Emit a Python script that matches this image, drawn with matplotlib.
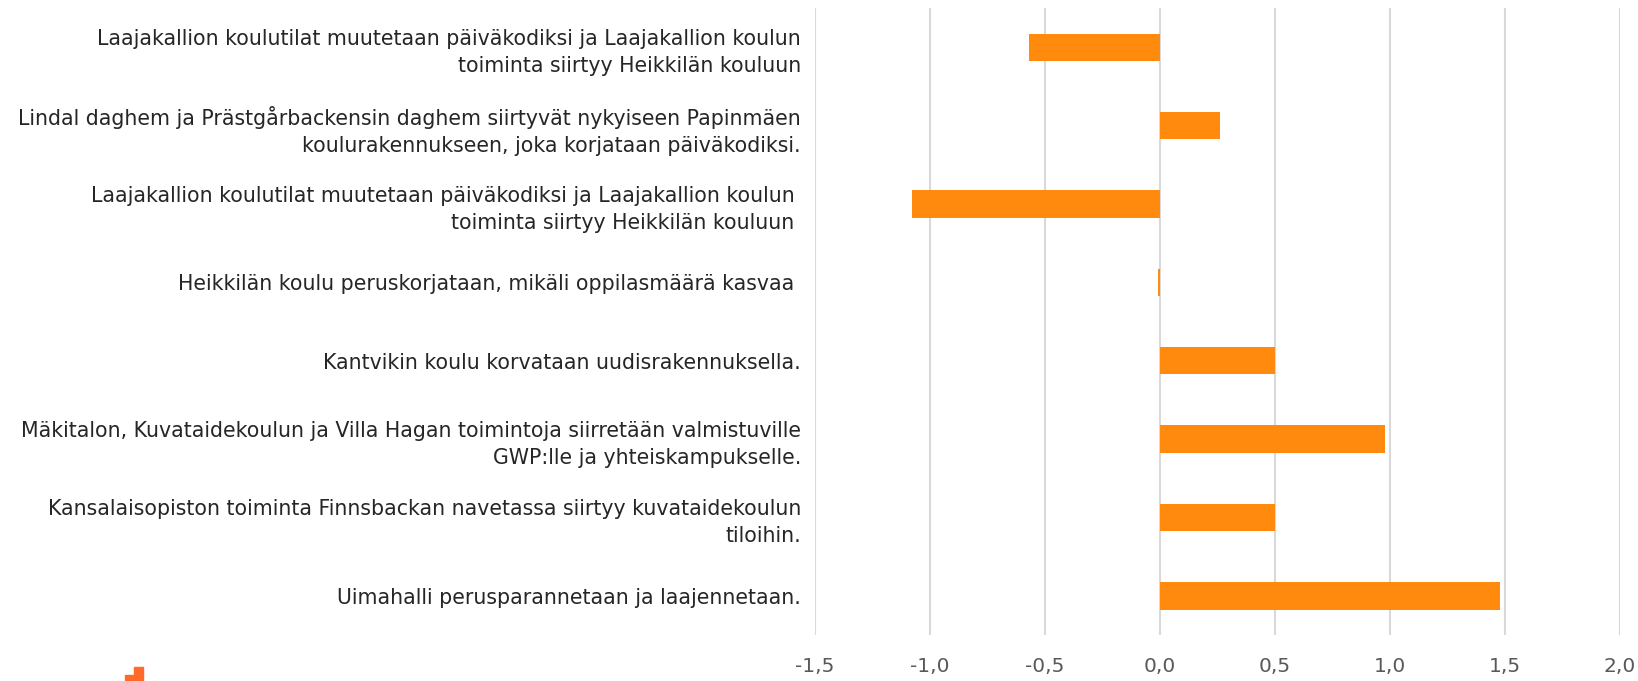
import matplotlib.pyplot as plt
from matplotlib.patches import Rectangle

labels = [
    "Laajakallion koulutilat muutetaan päiväkodiksi ja Laajakallion koulun\ntoiminta siirtyy Heikkilän kouluun",
    "Lindal daghem ja Prästgårbackensin daghem siirtyvät nykyiseen Papinmäen\nkoulurakennukseen, joka korjataan päiväkodiksi.",
    "Laajakallion koulutilat muutetaan päiväkodiksi ja Laajakallion koulun \ntoiminta siirtyy Heikkilän kouluun ",
    "Heikkilän koulu peruskorjataan, mikäli oppilasmäärä kasvaa ",
    "Kantvikin koulu korvataan uudisrakennuksella.",
    "Mäkitalon, Kuvataidekoulun ja Villa Hagan toimintoja siirretään valmistuville\nGWP:lle ja yhteiskampukselle.",
    "Kansalaisopiston toiminta Finnsbackan navetassa siirtyy kuvataidekoulun\ntiloihin.",
    "Uimahalli perusparannetaan ja laajennetaan.",
]
values = [-0.57, 0.26, -1.08, -0.01, 0.50, 0.98, 0.50, 1.48]
xticks = [-1.5, -1.0, -0.5, 0.0, 0.5, 1.0, 1.5, 2.0]
xticklabels = ["-1,5", "-1,0", "-0,5", "0,0", "0,5", "1,0", "1,5", "2,0"]

bar_color = '#FF8A0E'

fig = plt.figure(figsize=(16.38, 6.81), dpi=100)
ax = fig.add_axes([0.4975, 0.0675, 0.4915, 0.9205])

pos = list(range(len(labels)))
ax.barh(pos, values, height=0.35, color=bar_color, zorder=3)
ax.set_ylim(len(labels) - 0.5, -0.5)
ax.set_xlim(-1.5, 2.0)

ax.set_yticks(pos)
ax.set_yticklabels(labels, fontsize=14.8, color='#262626', linespacing=1.42)
ax.set_xticks(xticks)
ax.set_xticklabels(xticklabels, fontsize=14.5, color='#595959')
ax.tick_params(axis='y', length=0, pad=10)
ax.tick_params(axis='x', length=0, pad=16)

ax.grid(axis='x', color='#D9D9D9', linewidth=1.5, zorder=0)
for s in ax.spines.values():
    s.set_visible(False)

# small logo fragment at bottom left
fig.patches.append(Rectangle((0.0765, 0.0), 0.005, 0.009, transform=fig.transFigure, color='#FF6A2A'))
fig.patches.append(Rectangle((0.082, 0.0), 0.005, 0.02, transform=fig.transFigure, color='#FF6A2A'))

fig.savefig('out.png', dpi=100)
